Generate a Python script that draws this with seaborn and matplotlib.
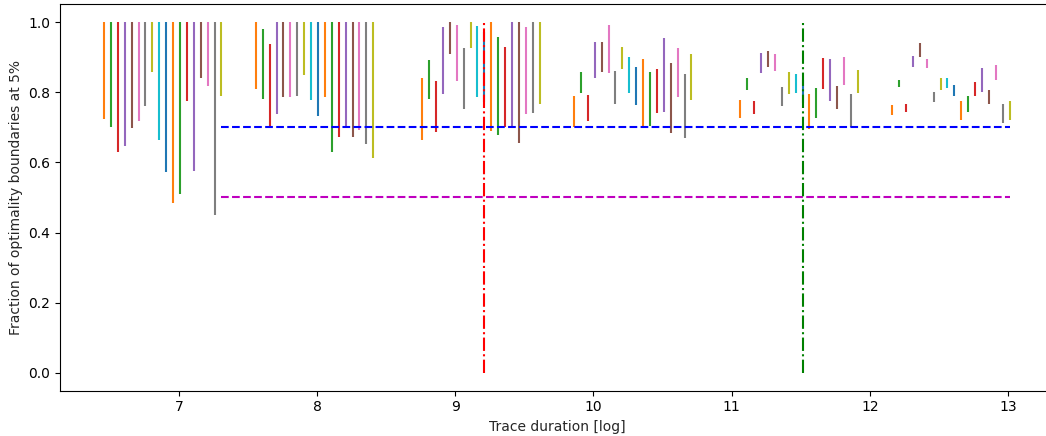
import numpy as np
import matplotlib
matplotlib.use("Agg")
import matplotlib.pyplot as plt
import seaborn as sns

durations = [1000, 3000, 10000, 30000, 100000, 300000]

lows = [
    [0.724, 0.702, 0.630, 0.647, 0.697, 0.718, 0.762, 0.858, 0.665, 0.573, 0.483, 0.509, 0.776, 0.575, 0.840, 0.818, 0.450, 0.790],
    [0.808, 0.780, 0.697, 0.739, 0.785, 0.787, 0.790, 0.849, 0.777, 0.733, 0.787, 0.631, 0.671, 0.705, 0.672, 0.691, 0.653, 0.612],
    [0.664, 0.780, 0.688, 0.796, 0.908, 0.833, 0.753, 0.926, 0.785, 0.773, 0.690, 0.677, 0.702, 0.700, 0.655, 0.737, 0.740, 0.766],
    [0.700, 0.797, 0.719, 0.840, 0.857, 0.854, 0.767, 0.867, 0.798, 0.765, 0.700, 0.704, 0.740, 0.744, 0.683, 0.786, 0.670, 0.779],
    [0.726, 0.805, 0.737, 0.856, 0.871, 0.861, 0.762, 0.794, 0.797, 0.770, 0.696, 0.726, 0.809, 0.776, 0.751, 0.820, 0.700, 0.797],
    [0.736, 0.816, 0.744, 0.873, 0.899, 0.869, 0.773, 0.805, 0.811, 0.788, 0.721, 0.743, 0.790, 0.802, 0.767, 0.836, 0.713, 0.721],
]
highs = [
    [1.0, 1.0, 1.0, 1.0, 1.0, 1.0, 1.0, 1.0, 1.0, 1.0, 1.0, 1.0, 1.0, 1.0, 1.0, 1.0, 1.0, 1.0],
    [1.0, 0.980, 0.938, 1.0, 1.0, 1.0, 1.0, 1.0, 1.0, 1.0, 1.0, 1.0, 1.0, 1.0, 1.0, 1.0, 1.0, 1.0],
    [0.840, 0.892, 0.831, 0.985, 1.0, 0.992, 0.926, 1.0, 0.990, 0.972, 1.0, 0.958, 0.929, 1.0, 1.0, 0.987, 1.0, 1.0],
    [0.789, 0.858, 0.792, 0.942, 0.944, 0.991, 0.861, 0.928, 0.899, 0.871, 0.895, 0.857, 0.866, 0.954, 0.884, 0.927, 0.851, 0.910],
    [0.777, 0.840, 0.776, 0.912, 0.918, 0.908, 0.815, 0.858, 0.853, 0.835, 0.796, 0.811, 0.897, 0.895, 0.818, 0.900, 0.795, 0.863],
    [0.764, 0.834, 0.766, 0.903, 0.941, 0.895, 0.801, 0.841, 0.841, 0.820, 0.774, 0.790, 0.830, 0.869, 0.805, 0.879, 0.766, 0.775],
]
thresholds = [0.7, 0.5]
markers_x = [10000, 100000]

sns.set_style("ticks")
plt.rcParams["font.family"] = ["DejaVu Sans"]
palette = sns.color_palette("tab10")

fig = plt.figure(figsize=(10.46, 4.36), dpi=100)
ax = fig.add_axes([60 / 1046, 45.5 / 436, (1055 - 60) / 1046, 386 / 436])

n = len(lows[0])
offsets = (np.arange(n) - 9) * 0.05
for d, lo, hi in zip(durations, lows, highs):
    xs = np.log(d) + offsets
    for i, (x, a, b) in enumerate(zip(xs, lo, hi)):
        ax.vlines(x, a, b, color=palette[(i + 1) % 10], linewidth=1.5)

x_start = np.log(durations[0]) + offsets[-1]
x_end = np.log(durations[-1]) + offsets[-1]
ax.plot([x_start, x_end], [thresholds[0]] * 2, "b--", linewidth=1.5)
ax.plot([x_start, x_end], [thresholds[1]] * 2, "m--", linewidth=1.5)
ax.plot([np.log(markers_x[0])] * 2, [0, 1], "r-.", linewidth=1.5)
ax.plot([np.log(markers_x[1])] * 2, [0, 1], "g-.", linewidth=1.5)

ax.set_xlim(6.139, 13.34)
ax.set_ylim(-0.05, 1.05)
ax.set_xticks([7, 8, 9, 10, 11, 12, 13])
ax.set_yticks([0.0, 0.2, 0.4, 0.6, 0.8, 1.0])
ax.set_xlabel("Trace duration [log]")
ax.set_ylabel("Fraction of optimality boundaries at 5%")
for s in ax.spines.values():
    s.set_color("black")
    s.set_linewidth(0.8)
ax.tick_params(colors="black", labelsize=10)

fig.savefig("out.png", dpi=100)
